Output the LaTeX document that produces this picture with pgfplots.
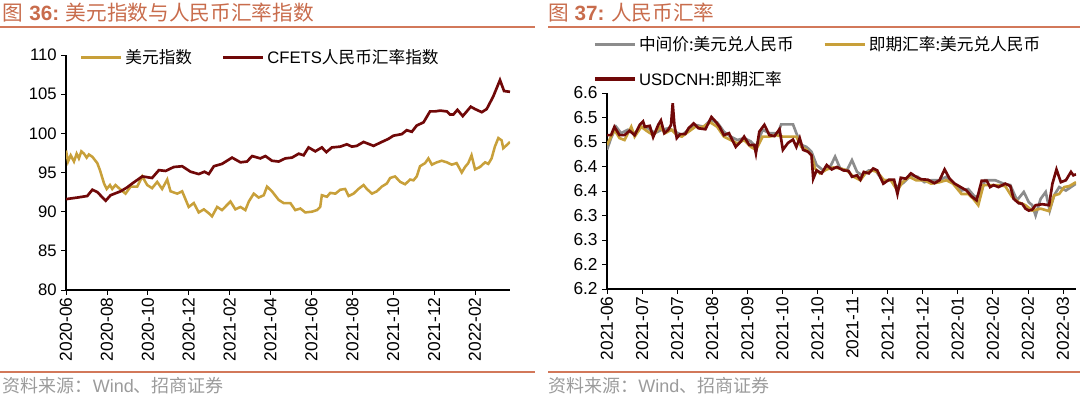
\documentclass[border=0pt]{standalone}
\usepackage{pgfplots}
\pgfplotsset{compat=1.18}
\usepackage{fontspec}
\setmainfont{Liberation Sans}
\newfontfamily\cjk{Noto Sans CJK SC}
\definecolor{gold}{RGB}{200,160,58}
\definecolor{dred}{RGB}{112,8,8}
\definecolor{mgray}{RGB}{140,140,140}
\definecolor{titlec}{RGB}{200,108,76}
\definecolor{linec}{RGB}{210,120,90}
\definecolor{srcc}{RGB}{155,155,155}

\pgfplotstableread{
m v
0 97.8
0.10 96.4
0.23 97.2
0.39 96.4
0.52 97.4
0.63 96.8
0.75 97.7
0.88 97.4
1.01 96.9
1.12 97.3
1.29 97.0
1.53 96.2
1.66 95.3
1.86 93.6
1.99 92.9
2.15 93.4
2.26 92.9
2.42 93.4
2.59 93.0
2.91 92.3
3.16 93.2
3.48 93.2
3.73 94.5
3.97 93.4
4.21 93.0
4.46 93.8
4.70 92.9
4.95 94.1
5.11 92.6
5.44 92.3
5.68 92.6
6.00 90.6
6.25 91.1
6.49 89.9
6.74 90.3
6.98 89.8
7.14 89.4
7.39 90.6
7.63 90.2
8.04 91.3
8.28 90.3
8.53 90.6
8.77 90.2
8.94 91.3
9.18 92.3
9.42 91.8
9.67 92.1
9.83 93.2
10.07 92.6
10.40 91.5
10.64 91.1
10.97 91.1
11.21 90.2
11.46 90.4
11.70 89.9
12.03 90.0
12.27 90.2
12.43 90.6
12.51 92.1
12.76 91.9
12.92 92.4
13.17 92.3
13.41 92.8
13.65 92.9
13.82 92.0
14.06 92.3
14.30 92.9
14.55 93.4
14.71 92.9
14.96 92.3
15.20 92.6
15.44 93.2
15.69 93.6
15.85 94.3
16.09 94.5
16.34 93.8
16.58 93.5
16.83 94.1
16.99 94.0
17.15 94.5
17.31 95.8
17.56 96.2
17.72 96.8
17.89 96.0
18.13 96.3
18.37 96.5
18.62 96.3
18.86 96.0
19.10 96.2
19.35 95.0
19.51 95.7
19.67 96.2
19.83 97.2
20.00 95.4
20.24 95.7
20.49 96.3
20.65 96.1
20.81 96.8
20.97 98.3
21.14 99.4
21.30 99.1
21.38 98.1
21.55 98.5
21.71 98.9
}\dxy

\pgfplotstableread{
m v
0 91.6
0.55 91.8
1.04 92.0
1.29 92.8
1.53 92.5
1.94 91.4
2.18 92.1
2.67 92.6
2.99 93.1
3.24 93.6
3.73 94.5
4.21 94.3
4.54 95.3
4.87 95.2
5.27 95.7
5.68 95.8
6.09 95.1
6.49 94.8
6.77 95.1
6.98 94.8
7.23 95.8
7.63 96.1
8.12 96.9
8.53 96.3
8.85 96.4
9.10 97.1
9.50 96.8
9.75 97.1
10.07 96.5
10.40 96.4
10.72 96.8
11.05 96.9
11.38 97.4
11.62 97.2
11.86 98.2
12.19 97.7
12.51 98.2
12.73 97.6
13.00 98.2
13.41 98.3
13.73 98.6
13.98 98.3
14.22 98.4
14.55 98.9
15.04 98.4
15.44 98.9
15.77 99.3
16.01 99.7
16.42 99.9
16.66 100.4
16.91 100.2
17.15 101.0
17.48 101.4
17.80 102.8
18.05 102.8
18.29 102.9
18.62 102.8
18.78 102.4
18.94 102.4
19.14 103.0
19.40 102.2
19.79 103.4
20.00 103.1
20.33 102.7
20.57 103.1
20.89 104.7
21.22 106.8
21.42 105.4
21.71 105.3
}\cfets

\pgfplotstableread{
x v
58 6.484
70 6.508
85 6.531
100 6.518
120 6.525
140 6.518
160 6.531
180 6.528
200 6.518
220 6.525
240 6.528
260 6.521
280 6.514
300 6.525
320 6.535
345 6.531
365 6.545
385 6.540
405 6.521
425 6.511
445 6.504
465 6.508
485 6.501
500 6.490
520 6.525
540 6.518
565 6.518
575 6.536
610 6.536
620 6.518
635 6.494
650 6.490
665 6.480
680 6.453
700 6.442
720 6.449
735 6.470
750 6.446
770 6.442
785 6.463
800 6.439
815 6.432
835 6.442
855 6.442
875 6.422
900 6.422
920 6.408
940 6.418
960 6.432
980 6.429
1000 6.418
1020 6.422
1045 6.422
1065 6.429
1085 6.415
1110 6.401
1130 6.404
1150 6.388
1165 6.391
1180 6.422
1210 6.422
1235 6.415
1255 6.412
1275 6.381
1295 6.398
1310 6.377
1320 6.371
1330 6.350
1345 6.384
1360 6.398
1372 6.360
1385 6.391
1400 6.408
1420 6.401
1435 6.408
1450 6.415
}\mid

\pgfplotstableread{
x v
58 6.494
70 6.511
80 6.525
95 6.508
110 6.504
130 6.531
140 6.511
160 6.531
175 6.523
195 6.514
215 6.531
230 6.518
250 6.525
265 6.514
280 6.511
300 6.521
320 6.531
340 6.530
365 6.540
385 6.531
405 6.511
425 6.504
445 6.497
465 6.504
485 6.490
500 6.484
520 6.511
540 6.511
560 6.514
580 6.511
600 6.511
620 6.511
635 6.490
650 6.484
665 6.473
675 6.446
690 6.436
710 6.444
730 6.448
750 6.446
770 6.442
790 6.429
810 6.422
825 6.436
845 6.442
860 6.439
880 6.422
900 6.422
920 6.401
935 6.418
955 6.429
975 6.422
1000 6.422
1020 6.415
1045 6.418
1065 6.422
1085 6.415
1110 6.394
1130 6.394
1145 6.384
1160 6.371
1175 6.412
1195 6.412
1215 6.412
1240 6.410
1260 6.388
1280 6.377
1300 6.371
1320 6.360
1345 6.364
1370 6.359
1385 6.391
1400 6.394
1415 6.408
1430 6.410
1450 6.418
}\spot

\pgfplotstableread{
x v
58 6.514
70 6.514
80 6.531
95 6.514
110 6.514
125 6.523
140 6.514
155 6.535
165 6.542
170 6.531
185 6.533
195 6.510
210 6.535
218 6.544
228 6.518
240 6.525
248 6.535
253 6.579
258 6.535
265 6.508
275 6.516
290 6.516
300 6.528
315 6.538
330 6.528
350 6.526
368 6.551
380 6.542
392 6.531
405 6.514
420 6.518
440 6.490
455 6.501
465 6.511
480 6.494
495 6.494
500 6.477
510 6.521
525 6.535
540 6.514
555 6.512
570 6.526
580 6.484
595 6.498
610 6.505
620 6.490
630 6.508
640 6.484
655 6.480
665 6.473
670 6.425
680 6.442
695 6.436
710 6.453
725 6.444
740 6.449
760 6.442
775 6.441
785 6.429
800 6.432
810 6.423
820 6.439
835 6.436
848 6.446
860 6.442
878 6.415
895 6.423
910 6.423
920 6.394
930 6.427
945 6.425
960 6.436
975 6.429
990 6.424
1010 6.423
1030 6.416
1045 6.422
1060 6.444
1075 6.425
1090 6.415
1110 6.407
1125 6.401
1140 6.389
1155 6.381
1170 6.421
1185 6.421
1195 6.408
1205 6.412
1220 6.408
1240 6.415
1255 6.410
1265 6.384
1280 6.375
1290 6.374
1300 6.364
1310 6.360
1320 6.362
1330 6.371
1350 6.373
1370 6.371
1380 6.415
1392 6.444
1405 6.418
1420 6.422
1435 6.439
1442 6.432
1450 6.434
}\cnh

\pgfplotsset{
  myax/.style={
    scale only axis,
    anchor=south west,
    axis x line*=bottom, axis y line*=left,
    tick align=outside,
    major tick length=3.5pt,
    tick style={black, line width=0.6pt},
    axis line style={black, line width=0.8pt},
    /pgf/number format/assume math mode=true,
    x tick label style={rotate=90, anchor=east, font=\fontsize{13}{14}\selectfont, inner sep=2pt},
    y tick label style={font=\fontsize{12.5}{13}\selectfont},
    legend cell align=left,
    legend image code/.code={\draw[##1, line width=2.4pt] (0pt,0pt) -- (30pt,0pt);},
  },
}

\begin{document}
\begin{tikzpicture}
\useasboundingbox (0,0) rectangle (810pt,297pt);
% titles
\node[anchor=west, inner sep=0pt, text=titlec, font=\fontsize{15.5}{17}\selectfont] at (2pt,287.5pt) {{\cjk 图} \textbf{36:}\hspace{5pt}{\cjk 美元指数与人民币汇率指数}};
\node[anchor=west, inner sep=0pt, text=titlec, font=\fontsize{15.5}{17}\selectfont] at (411pt,287.5pt) {{\cjk 图} \textbf{37:}\hspace{5pt}{\cjk 人民币汇率}};
\draw[linec, line width=1.4pt] (0pt,276.75pt) -- (401.25pt,276.75pt);
\draw[linec, line width=1.4pt] (411pt,276.75pt) -- (810pt,276.75pt);
\draw[linec, line width=1.4pt] (0pt,18pt) -- (401.25pt,18pt);
\draw[linec, line width=1.4pt] (411pt,18pt) -- (810pt,18pt);
\node[anchor=west, inner sep=0pt, text=srcc, font=\fontsize{13.5}{14}\selectfont] at (2pt,7.5pt) {{\cjk 资料来源：}Wind{\cjk 、招商证券}};
\node[anchor=west, inner sep=0pt, text=srcc, font=\fontsize{13.5}{14}\selectfont] at (411pt,7.5pt) {{\cjk 资料来源：}Wind{\cjk 、招商证券}};

\begin{axis}[myax,
  at={(49.5pt,79.5pt)}, width=333pt, height=176.25pt,
  xmin=0, xmax=21.71, ymin=80, ymax=110,
  ytick={80,85,...,110},
  xtick={0,2,...,20},
  xticklabels={2020-06,2020-08,2020-10,2020-12,2021-02,2021-04,2021-06,2021-08,2021-10,2021-12,2022-02},
  legend columns=2,
  legend style={at={(0.03,0.99)}, anchor=west, draw=none, fill=none,
    font=\fontsize{12.5}{13}\selectfont, inner sep=0pt,
    /tikz/every even column/.append style={column sep=20pt}},
]
\addplot[gold, line width=1.9pt] table[x=m,y=v] {\dxy};
\addlegendentry{{\cjk 美元指数}}
\addplot[dred, line width=2pt] table[x=m,y=v] {\cfets};
\addlegendentry{CFETS{\cjk 人民币汇率指数}}
\end{axis}

\begin{axis}[myax,
  at={(455.25pt,80.25pt)}, width=351.75pt, height=147pt,
  xmin=58, xmax=1450, ymin=6.2, ymax=6.6,
  ytick={6.2,6.25,6.3,6.35,6.4,6.45,6.5,6.55,6.6},
  yticklabels={6.2,6.2,6.3,6.3,6.4,6.4,6.5,6.5,6.6},
  y tick label style={font=\fontsize{13}{14}\selectfont},
  xtick={58,162.1,266.2,370.3,474.4,578.5,682.6,786.7,890.8,994.9,1099,1203.1,1307.2,1411.3},
  xticklabels={2021-06,2021-07,2021-07,2021-08,2021-09,2021-10,2021-10,2021-11,2021-12,2021-12,2022-01,2022-02,2022-02,2022-03},
  legend columns=2,
  legend style={at={(-0.03,1.16)}, anchor=west, draw=none, fill=none,
    font=\fontsize{12.5}{13}\selectfont, inner sep=0pt,
    /tikz/row sep=10pt,
    /tikz/every even column/.append style={column sep=20pt}},
]
\addplot[mgray, line width=2pt] table[x=x,y=v] {\mid};
\addlegendentry{{\cjk 中间价:美元兑人民币}}
\addplot[gold, line width=2pt] table[x=x,y=v] {\spot};
\addlegendentry{{\cjk 即期汇率:美元兑人民币}}
\addplot[dred, line width=2pt] table[x=x,y=v] {\cnh};
\addlegendentry{USDCNH{\cjk :即期汇率}}
\end{axis}
\end{tikzpicture}
\end{document}
